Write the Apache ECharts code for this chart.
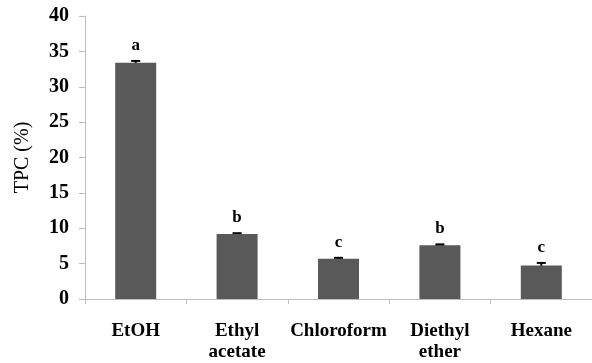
<!DOCTYPE html>
<html><head><meta charset="utf-8">
<script src="https://cdn.jsdelivr.net/npm/echarts@6/dist/echarts.min.js"></script>
<style>html,body{margin:0;padding:0;background:#fff;}#c{width:592px;height:363px;}</style>
</head><body><div id="c"></div>
<script>
var categories = ['EtOH', 'Ethyl\nacetate', 'Chloroform', 'Diethyl\nether', 'Hexane'];
var values = [33.4, 9.2, 5.7, 7.6, 4.75];
var errors = [0.25, 0.1, 0.12, 0.12, 0.35];
var letters = ['a', 'b', 'c', 'b', 'c'];
var yTicks = [0, 5, 10, 15, 20, 25, 30, 35, 40];

var chart = echarts.init(document.getElementById('c'), null, {renderer: 'canvas'});
var serif = '"Liberation Serif", "Times New Roman", serif';
chart.setOption({
  animation: false,
  grid: {left: 85, top: 16, bottom: 62, right: -9.5},
  xAxis: {
    type: 'category', data: categories,
    axisLine: {lineStyle: {color: '#bdbdbd', width: 1}},
    axisTick: {show: true, length: 5, lineStyle: {color: '#bdbdbd'}},
    axisLabel: {interval: 0, margin: 22, color: '#000', fontFamily: serif, fontWeight: 'bold', fontSize: 19, lineHeight: 21}
  },
  yAxis: {
    type: 'value', min: yTicks[0], max: yTicks[yTicks.length - 1], interval: 5,
    name: 'TPC (%)', nameLocation: 'middle', nameGap: 52, nameRotate: 90,
    nameTextStyle: {fontFamily: serif, fontSize: 20, color: '#000'},
    axisLine: {show: true, lineStyle: {color: '#bdbdbd', width: 1}},
    axisTick: {show: true, length: 6, lineStyle: {color: '#bdbdbd'}},
    splitLine: {show: false},
    axisLabel: {margin: 16, color: '#000', fontFamily: serif, fontWeight: 'bold', fontSize: 20}
  },
  series: [{
    type: 'bar', data: values, barWidth: 41,
    itemStyle: {color: '#595959'}
  }, {
    type: 'custom',
    data: values.map(function (v, i) { return [i, v, errors[i]]; }),
    renderItem: function (params, api) {
      var i = api.value(0), v = api.value(1), e = api.value(2);
      var top = api.coord([i, v + e]);
      var bot = api.coord([i, v - e]);
      var x = top[0], hw = 4.5;
      var style = {stroke: '#000', lineWidth: 2};
      return {
        type: 'group',
        children: [
          {type: 'line', shape: {x1: x, y1: top[1], x2: x, y2: bot[1]}, style: style},
          {type: 'line', shape: {x1: x - hw, y1: top[1], x2: x + hw, y2: top[1]}, style: style},
          {type: 'line', shape: {x1: x - hw, y1: bot[1], x2: x + hw, y2: bot[1]}, style: style},
          {type: 'text', style: {text: letters[params.dataIndex], x: x, y: top[1] - 7,
            textAlign: 'center', textVerticalAlign: 'bottom',
            font: 'bold 17px ' + serif, fill: '#000'}}
        ]
      };
    }
  }]
});
</script></body></html>
